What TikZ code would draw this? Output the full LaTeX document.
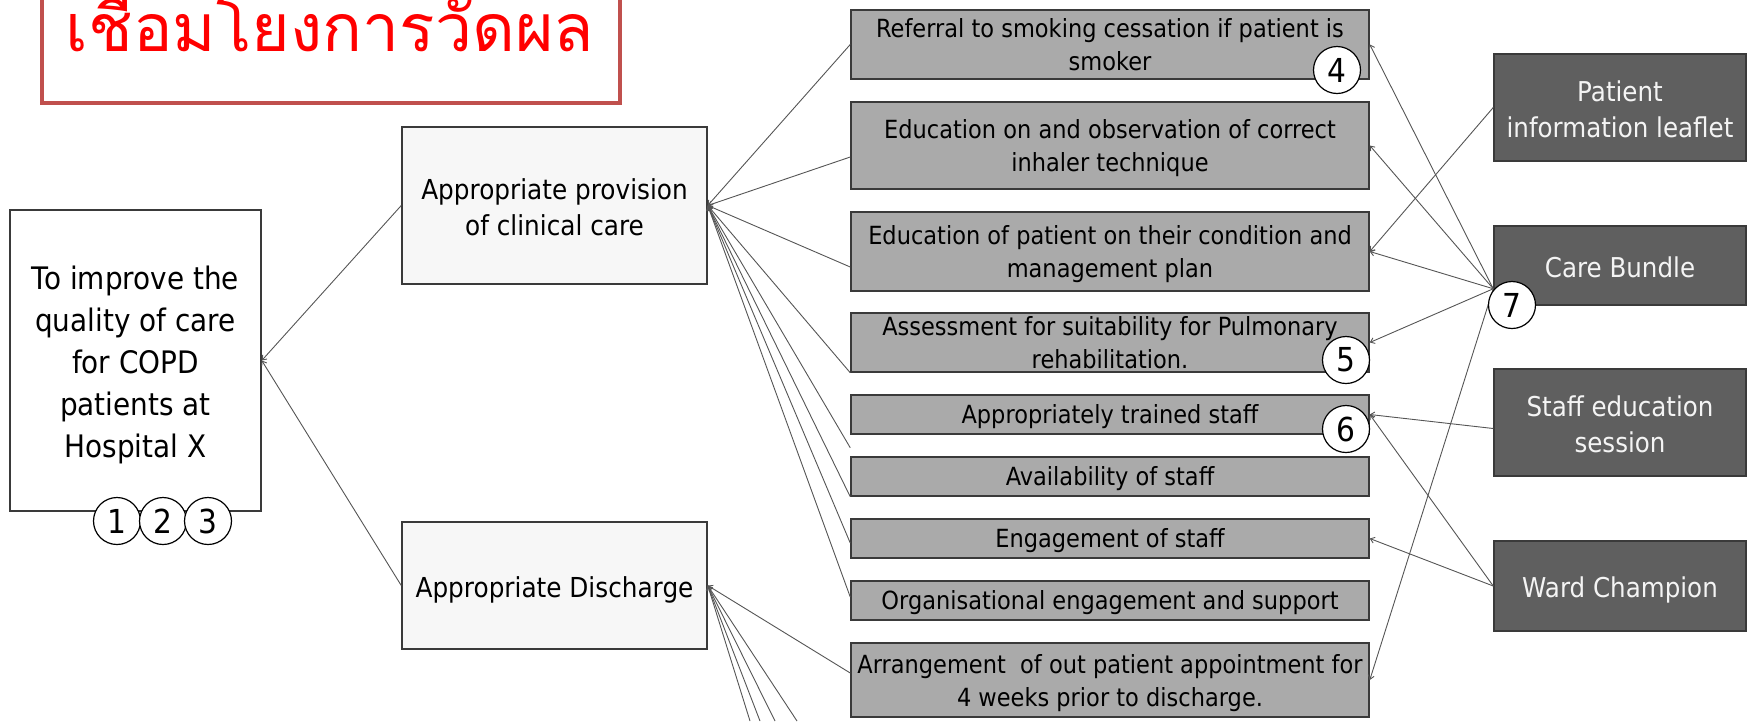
\documentclass[tikz,border=0pt]{standalone}
\usepackage{fontspec}
\setmainfont{DejaVu Sans}[FakeStretch=0.9]
\newfontfamily\thaifont[Script=Thai]{Loma}
\usetikzlibrary{arrows.meta,calc}
\definecolor{framered}{HTML}{C0504D}
\definecolor{titlered}{HTML}{FF0000}
\definecolor{edgecol}{HTML}{3A3A3A}
\definecolor{lightfill}{HTML}{F7F7F7}
\definecolor{midfill}{HTML}{AAAAAA}
\definecolor{darkfill}{HTML}{5F5F5F}
\definecolor{linecol}{HTML}{555555}
\definecolor{lighttext}{HTML}{F4F4F4}
\begin{document}
\begin{tikzpicture}[x=1pt,y=-1pt,
  box/.style={rectangle, draw=edgecol, line width=1.5pt, inner sep=0pt, align=center},
  goalbox/.style={box, fill=white, minimum width=251pt, minimum height=301pt, font=\fontsize{31}{42}\selectfont},
  catbox/.style={box, fill=lightfill, minimum width=305pt, font=\fontsize{27.5}{36}\selectfont},
  midbox/.style={box, fill=midfill, minimum width=518pt, font=\fontsize{25}{33}\selectfont},
  midtwo/.style={midbox, text height=55pt, text depth=3pt},
  midone/.style={midbox, text height=22pt, text depth=4pt},
  rbox/.style={box, fill=darkfill, text=lighttext, minimum width=252pt, font=\fontsize{27.3}{36}\selectfont},
  rtwo/.style={rbox, text height=62pt, text depth=3pt},
  rone/.style={rbox, text height=25pt, text depth=1.5pt},
  num/.style={circle, draw=black, line width=1.2pt, fill=white, minimum size=47pt, inner sep=0pt, font=\fontsize{33}{33}\selectfont},
  conn/.style={draw=linecol, line width=0.9pt, -{Straight Barb[length=4pt,width=6pt]}}
]
\useasboundingbox (0,0) rectangle (1749,721);

% title
\node[rectangle, draw=framered, line width=4pt, fill=white, minimum width=578pt, minimum height=150pt, inner sep=0pt] (titlebox) at (331,28) {};
\node[anchor=base, text=titlered, font=\thaifont\fontsize{66}{66}\selectfont, inner sep=0pt] (titletext) at (330,51) {เชื่อมโยงการวัดผล};

% goal
\node[goalbox, text height=200pt, text depth=7pt] (goal) at (135.5,360.5) {To improve the\\quality of care\\for COPD\\patients at\\Hospital X};

% categories
\node[catbox, minimum height=157pt, text height=62pt, text depth=3pt] (prov) at (554.5,205.5) {Appropriate provision\\of clinical care};
\node[catbox, minimum height=127pt, text height=27.5pt, text depth=4.5pt] (dis) at (554.5,585.5) {Appropriate Discharge};

% middle boxes
\node[midtwo, minimum height=69pt] (b1) at (1110,44.5) {Referral to smoking cessation if patient is\\smoker};
\node[midtwo, minimum height=87pt] (b2) at (1110,145.5) {Education on and observation of correct\\inhaler technique};
\node[midtwo, minimum height=79pt] (b3) at (1110,251.5) {Education of patient on their condition and\\management plan};
\node[midtwo, minimum height=59pt] (b4) at (1110,342.5) {Assessment for suitability for Pulmonary\\rehabilitation.};
\node[midone, minimum height=39pt] (b5) at (1110,414.5) {Appropriately trained staff};
\node[midone, minimum height=39pt] (b6) at (1110,476.5) {Availability of staff};
\node[midone, minimum height=39pt] (b7) at (1110,538.5) {Engagement of staff};
\node[midone, minimum height=39pt] (b8) at (1110,600.5) {Organisational engagement and support};
\node[midtwo, minimum height=74pt] (b9) at (1110,680) {Arrangement\ \ of out patient appointment for\\4 weeks prior to discharge.};

% right boxes
\node[rtwo, minimum height=107pt] (leaf) at (1620,107.5) {Patient\\information leaflet};
\node[rone, minimum height=79pt] (cb) at (1620,265.5) {Care Bundle};
\node[rtwo, minimum height=107pt] (staff) at (1620,422.5) {Staff education\\session};
\node[rone, minimum height=90pt] (ward) at (1620,586) {Ward Champion};

% left connectors
\draw[conn] (prov.west) -- (goal.east);
\draw[conn] (dis.west) -- (goal.east);

\draw[conn] (b1.west) -- (prov.east);
\draw[conn] ($(b2.west)+(0,11.5)$) -- (prov.east);
\draw[conn] ($(b3.west)+(0,15.5)$) -- (prov.east);
\draw[conn] (b4.south west) -- (prov.east);
\draw[conn] ($(b5.south west)+(0,13)$) -- (prov.east);
\draw[conn] (b6.south west) -- (prov.east);
\draw[conn] ($(b7.west)+(0,4.5)$) -- (prov.east);
\draw[conn] ($(b8.west)+(0,-3.5)$) -- (prov.east);

\coordinate (o1) at (750,721);
\coordinate (o2) at (760,721);
\coordinate (o3) at (775,721);
\coordinate (o4) at (797,721);
\draw[conn] ($(b9.west)+(0,-7)$) -- (dis.east);
\draw[conn] (o1) -- (dis.east);
\draw[conn] (o2) -- (dis.east);
\draw[conn] (o3) -- (dis.east);
\draw[conn] (o4) -- (dis.east);

% right connectors
\coordinate (cbp) at ($(cb.south west)+(0,-17)$);
\draw[conn] (cbp) -- (b1.east);
\draw[conn] (cbp) -- (b2.east);
\draw[conn] (cbp) -- (b3.east);
\draw[conn] (cbp) -- (b4.east);
\draw[conn] (cbp) -- (b9.east);
\draw[conn] (leaf.west) -- (b3.east);
\draw[conn] ($(staff.west)+(0,6)$) -- (b5.east);
\draw[conn] (ward.west) -- (b5.east);
\draw[conn] (ward.west) -- (b7.east);

% numbered circles
\node[num] (n1) at (117,521) {1};
\node[num] (n2) at (163,521) {2};
\node[num] (n3) at (208,521) {3};
\node[num] (n4) at (1337,70) {4};
\node[num] (n5) at (1346,360) {5};
\node[num] (n6) at (1346,429) {6};
\node[num] (n7) at (1512,305) {7};
\end{tikzpicture}
\end{document}
